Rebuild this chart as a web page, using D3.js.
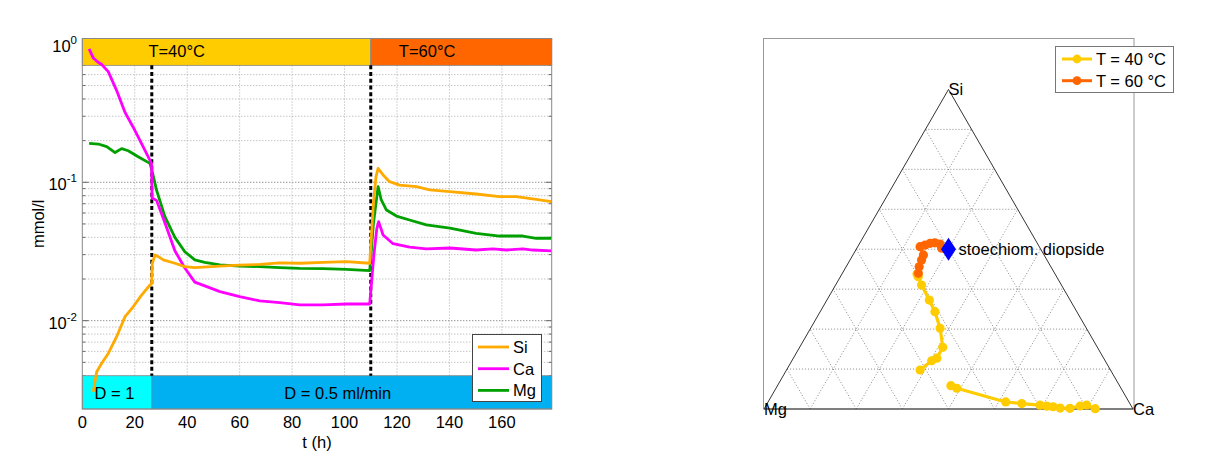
<!DOCTYPE html>
<html><head><meta charset="utf-8">
<script src="https://cdn.jsdelivr.net/npm/d3@7"></script>
<style>
html,body{margin:0;padding:0;background:#fff;}
svg{display:block;font-family:"Liberation Sans",Arial,sans-serif;}
</style></head>
<body><svg id="c" width="1220" height="452"></svg>
<script>
// ---------- Left chart data ----------
const tSi = [4.2,5.5,7.4,9.9,13.1,16.3,19.4,22.6,25.8,26.4,26.7,27.7,29,30.9,35.3,39.1,42.9,52.5,60,67.7,75.3,82.9,91.8,100.7,109.6,111,112,112.8,114.7,117.2,121,127.4,132.5,140.1,150.2,159.1,165.5,173.1,178.8];
const vSi = [0.00307,0.00428,0.00492,0.0058,0.00766,0.0107,0.0126,0.0153,0.0181,0.0184,0.026,0.0298,0.029,0.0275,0.026,0.0246,0.0242,0.0248,0.0252,0.0255,0.0262,0.026,0.0264,0.0267,0.026,0.07,0.11,0.126,0.113,0.101,0.0955,0.093,0.088,0.0855,0.0823,0.0787,0.0787,0.0753,0.0724];
const tCa = [2.6,4.2,5.9,7.4,9.9,13.1,16.3,19.4,22.6,26.4,26.6,28.3,31.5,35.3,39.1,42.9,52.5,60,67.7,75.3,82.9,91.8,100.7,109.6,111.2,112.3,113,114.7,118.5,124.8,131.2,140.2,150.2,156.6,161.7,168,171.8,178.8];
const vCa = [0.92,0.79,0.74,0.71,0.63,0.46,0.32,0.25,0.19,0.137,0.077,0.074,0.051,0.032,0.024,0.019,0.0162,0.0149,0.0139,0.0135,0.013,0.013,0.0132,0.0132,0.03,0.046,0.052,0.0416,0.036,0.034,0.033,0.0335,0.0324,0.033,0.0324,0.033,0.0324,0.0319];
const tMg = [2.6,6.1,9.3,12.5,15,17.5,21.3,25.8,26.7,28.3,31.5,35.3,39.1,42.9,46.7,52.5,60,67.7,75.3,82.9,91.8,100.7,109.6,111,112.8,114,116,119.8,124.8,131.2,140.2,150.2,159.1,168,173.1,178.8];
const vMg = [0.191,0.189,0.181,0.164,0.175,0.169,0.153,0.137,0.119,0.088,0.0565,0.040,0.0315,0.0275,0.0264,0.0253,0.0248,0.0246,0.0242,0.0239,0.0238,0.0235,0.023,0.05,0.093,0.0745,0.063,0.057,0.0534,0.0492,0.0466,0.0428,0.0409,0.0409,0.0394,0.0394];
const seriesNames = ["Si","Ca","Mg"];
const seriesColors = ["#FFAA00","#FF00FF","#00A000"];
const xTicks = [0,20,40,60,80,100,120,140,160];
const yDecades = [1,0.1,0.01];
const yDecadeExp = ["0","-1","-2"];
const eventTimes = [26.5,110];
const tempBands = [{x0:0,x1:110,label:"T=40°C",lx:36,color:"#FFCC00"},{x0:110,x1:179,label:"T=60°C",lx:131.5,color:"#FF6600"}];
const flowBands = [{x0:0,x1:26.5,label:"D = 1",lx:12.3,color:"#00FFFF"},{x0:26.5,x1:179,label:"D = 0.5 ml/min",lx:97.4,color:"#00B0F0"}];

// ---------- Ternary data (fractions) ----------
const t40Si = [0.001,0.0125,0.0094,0.002,0.003,0.007,0.009,0.012,0.017,0.022,0.065,0.073,null,0.122,0.151,0.159,0.193,0.2525,0.3045,0.341,0.388,0.414,0.4224];
const t40Ca = [0.897,0.868,0.852,0.828,0.801,0.780,0.762,0.742,0.690,0.644,0.490,0.470,null,0.362,0.379,0.389,0.388,0.351,0.311,0.2775,0.233,0.211,0.2034];
const t60Si = [0.4246,0.445,0.466,0.482,0.508,0.513,0.5185,0.520,0.516,0.503];
const t60Ca = [0.206,0.198,0.194,0.191,0.169,0.180,0.191,0.203,0.219,0.230];
const diopside = {Si:0.5,Ca:0.25,Mg:0.25};
const ternLabels = ["Si","Mg","Ca"];
const ternLegend = ["T = 40 °C","T = 60 °C"];
const ternColors = ["#FFCC00","#FF6600"];

const FS = 16.5;
const svg = d3.select("#c");
svg.append("rect").attr("width",1220).attr("height",452).attr("fill","#fff");

// ================= LEFT CHART =================
const L = {left:82.3,right:551.7,top:38.5,bottom:409};
const x = d3.scaleLinear().domain([0,179]).range([L.left,L.right]);
const y = d3.scaleLog().domain([0.0023,1.094]).range([L.bottom,L.top]);
const g = svg.append("g");
g.append("rect").attr("x",L.left).attr("y",L.top).attr("width",L.right-L.left).attr("height",L.bottom-L.top).attr("fill","#fff");

// grid
const minorVals = [];
[0.001,0.01,0.1].forEach(d=>{for(let k=2;k<=9;k++){const v=d*k; if(v>0.0023&&v<1.09) minorVals.push(v);}});
g.selectAll(".ming").data(minorVals).enter().append("line")
 .attr("x1",L.left).attr("x2",L.right).attr("y1",d=>y(d)).attr("y2",d=>y(d))
 .attr("stroke","#aaa").attr("stroke-width",1).attr("stroke-dasharray","1,2");
g.selectAll(".majg").data(yDecades).enter().append("line")
 .attr("x1",L.left).attr("x2",L.right).attr("y1",d=>y(d)).attr("y2",d=>y(d))
 .attr("stroke","#666").attr("stroke-width",1).attr("stroke-dasharray","1,2");
g.selectAll(".vg").data(xTicks.slice(1)).enter().append("line")
 .attr("x1",d=>x(d)).attr("x2",d=>x(d)).attr("y1",L.top).attr("y2",L.bottom)
 .attr("stroke","#aaa").attr("stroke-width",1).attr("stroke-dasharray","1,2");
const allY = minorVals.concat(yDecades);
g.selectAll(".tkl").data(allY).enter().append("line")
 .attr("x1",L.left).attr("x2",d=>L.left+(yDecades.includes(d)?6:3)).attr("y1",d=>y(d)).attr("y2",d=>y(d)).attr("stroke","#666");
g.selectAll(".tkr").data(allY).enter().append("line")
 .attr("x1",L.right).attr("x2",d=>L.right-(yDecades.includes(d)?6:3)).attr("y1",d=>y(d)).attr("y2",d=>y(d)).attr("stroke","#666");

// bands
g.selectAll(".tb").data(tempBands).enter().append("rect")
 .attr("x",d=>x(d.x0)).attr("width",d=>x(d.x1)-x(d.x0)).attr("y",L.top).attr("height",y(0.7)-L.top)
 .attr("fill",d=>d.color).attr("stroke","#888").attr("stroke-width",0.8);
g.selectAll(".tbt").data(tempBands).enter().append("text")
 .attr("x",d=>x(d.lx)).attr("y",y(0.7)-8).attr("text-anchor","middle").attr("font-size",FS).text(d=>d.label);
g.selectAll(".fb").data(flowBands).enter().append("rect")
 .attr("x",d=>x(d.x0)).attr("width",d=>x(d.x1)-x(d.x0)).attr("y",y(0.004)).attr("height",L.bottom-y(0.004))
 .attr("fill",d=>d.color).attr("stroke","#888").attr("stroke-width",0.8);
g.selectAll(".fbt").data(flowBands).enter().append("text")
 .attr("x",d=>x(d.lx)).attr("y",y(0.004)+23).attr("text-anchor","middle").attr("font-size",FS).text(d=>d.label);

// event dashed lines
g.selectAll(".ev").data(eventTimes).enter().append("line")
 .attr("x1",d=>x(d)).attr("x2",d=>x(d)).attr("y1",y(0.7)).attr("y2",y(0.004))
 .attr("stroke","#000").attr("stroke-width",3).attr("stroke-dasharray","4,2.7");

// series
const line = d3.line().x(d=>x(d[0])).y(d=>y(d[1]));
const seriesData = [d3.zip(tSi,vSi),d3.zip(tCa,vCa),d3.zip(tMg,vMg)];
[2,1,0].forEach(i=>{
  g.append("path").datum(seriesData[i]).attr("d",line).attr("fill","none")
   .attr("stroke",seriesColors[i]).attr("stroke-width",2.8).attr("stroke-linejoin","round");
});

// box
g.append("rect").attr("x",L.left).attr("y",L.top).attr("width",L.right-L.left).attr("height",L.bottom-L.top)
 .attr("fill","none").attr("stroke","#888").attr("stroke-width",1);

// tick labels
g.selectAll(".xl").data(xTicks).enter().append("text")
 .attr("x",d=>x(d)).attr("y",L.bottom+19).attr("text-anchor","middle").attr("font-size",FS).text(d=>d);
g.append("text").attr("x",(L.left+L.right)/2).attr("y",448).attr("text-anchor","middle").attr("font-size",FS).text("t (h)");
yDecades.forEach((d,i)=>{
  const t = g.append("text").attr("x",77).attr("y",y(d)+8).attr("text-anchor","end").attr("font-size",FS);
  t.append("tspan").text("10");
  t.append("tspan").attr("dy",-8).attr("font-size",11.5).text(yDecadeExp[i]);
});
g.append("text").attr("transform",`translate(44,${(L.top+L.bottom)/2}) rotate(-90)`).attr("text-anchor","middle").attr("font-size",FS).text("mmol/l");

// legend
const lg = g.append("g");
lg.append("rect").attr("x",472.5).attr("y",334.5).attr("width",69).attr("height",67).attr("fill","#fff").attr("stroke","#444").attr("stroke-width",1);
seriesNames.forEach((n,i)=>{
  const yy = 347 + i*21.7;
  lg.append("line").attr("x1",478).attr("x2",509).attr("y1",yy).attr("y2",yy).attr("stroke",seriesColors[i]).attr("stroke-width",2.8);
  lg.append("text").attr("x",513).attr("y",yy+6).attr("font-size",FS).text(n);
});

// ================= TERNARY =================
const T = {left:763.5,right:1134,top:38.5,bottom:409};
const tx = d3.scaleLinear().domain([0,1]).range([764,1133]);
const ty = d3.scaleLinear().domain([0,1]).range([409,409-369*Math.sqrt(3)/2]);
const P = (si,ca)=>[tx(ca+si/2),ty(si)];
const tg = svg.append("g");
tg.append("rect").attr("x",T.left).attr("y",T.top).attr("width",T.right-T.left).attr("height",T.bottom-T.top)
 .attr("fill","#fff").attr("stroke","#999").attr("stroke-width",1);
const steps = d3.range(1,8).map(k=>k/8);
const gridSegs = [];
steps.forEach(f=>{
  gridSegs.push([P(f,0),P(f,1-f)]);
  gridSegs.push([P(0,f),P(1-f,f)]);
  gridSegs.push([P(0,1-f),P(1-f,0)]);
});
tg.selectAll(".tgl").data(gridSegs).enter().append("line")
 .attr("x1",d=>d[0][0]).attr("y1",d=>d[0][1]).attr("x2",d=>d[1][0]).attr("y2",d=>d[1][1])
 .attr("stroke","#888").attr("stroke-width",1).attr("stroke-dasharray","1,2");
const tri = [P(1,0),P(0,0),P(0,1)];
tg.append("path").attr("d","M"+tri.map(p=>p.join(",")).join("L")+"Z").attr("fill","none").attr("stroke","#333").attr("stroke-width",1);
const labPos = [P(1,0),P(0,0),P(0,1)];
ternLabels.forEach((n,i)=>{
  tg.append("text").attr("x",labPos[i][0]).attr("y",labPos[i][1]+6).attr("font-size",FS).text(n);
});
const tline = d3.line().defined(d=>d[0]!==null).x(d=>P(d[0],d[1])[0]).y(d=>P(d[0],d[1])[1]);
const d40 = d3.zip(t40Si,t40Ca), d60 = d3.zip(t60Si,t60Ca);
[[d40,ternColors[0]],[d60,ternColors[1]]].forEach(([dd,col])=>{
  tg.append("path").datum(dd).attr("d",tline).attr("fill","none").attr("stroke",col).attr("stroke-width",3.2).attr("stroke-linejoin","round");
  tg.selectAll(null).data(dd.filter(d=>d[0]!==null)).enter().append("circle")
   .attr("cx",d=>P(d[0],d[1])[0]).attr("cy",d=>P(d[0],d[1])[1]).attr("r",4.6).attr("fill",col);
});
const dp = P(diopside.Si,diopside.Ca);
tg.append("path").attr("d",`M${dp[0]},${dp[1]-11.5}L${dp[0]+7.5},${dp[1]}L${dp[0]},${dp[1]+11.5}L${dp[0]-7.5},${dp[1]}Z`).attr("fill","#0000FF");
tg.append("text").attr("x",dp[0]+10).attr("y",dp[1]+6).attr("font-size",FS).text("stoechiom. diopside");
const tl = tg.append("g");
tl.append("rect").attr("x",1055.5).attr("y",46.5).attr("width",118).attr("height",46).attr("fill","#fff").attr("stroke","#777");
ternLegend.forEach((n,i)=>{
  const yy = 59 + i*21.7;
  tl.append("line").attr("x1",1062).attr("x2",1092).attr("y1",yy).attr("y2",yy).attr("stroke",ternColors[i]).attr("stroke-width",3);
  tl.append("circle").attr("cx",1077).attr("cy",yy).attr("r",4.4).attr("fill",ternColors[i]);
  tl.append("text").attr("x",1096).attr("y",yy+6).attr("font-size",FS).text(n);
});
</script></body></html>
